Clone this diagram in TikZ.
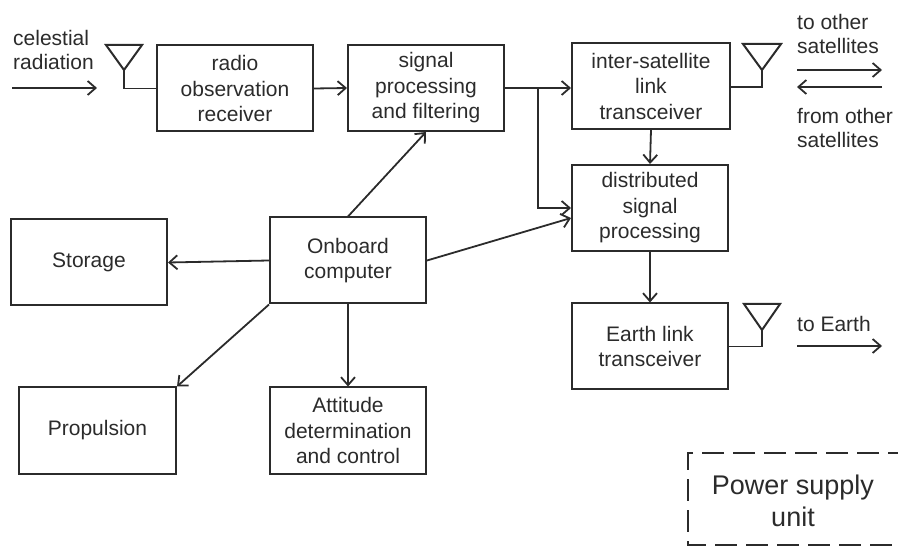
\documentclass[tikz,border=0pt]{standalone}
\usepackage{fontspec}
\setmainfont{Liberation Sans}
\usetikzlibrary{arrows.meta}
\definecolor{ink}{HTML}{2B2B2B}
\begin{document}
\begin{tikzpicture}[x=1pt,y=-1pt,
 box/.style={draw=ink,line width=2pt,minimum width=156pt,minimum height=86pt,inner sep=0pt,align=center,font=\fontsize{21}{25.5}\selectfont,text=ink},
 lbl/.style={align=left,font=\fontsize{21}{24.5}\selectfont,text=ink,inner sep=0pt,anchor=north west},
 conn/.style={draw=ink,line width=1.8pt,-{Straight Barb[length=8pt,width=14pt,line width=1.8pt]}},
 wire/.style={draw=ink,line width=1.8pt},
 ant/.style={draw=ink,line width=2pt,line join=miter},
]
\useasboundingbox (0,0) rectangle (898,548);
% boxes
\node[box] (radio) at (235,88.5) {radio\\observation\\receiver};
\node[box] (signal) at (426,88) {signal\\processing\\and filtering};
\node[box,minimum width=158pt] (isl) at (651,86) {inter-satellite\\link\\transceiver};
\node[box] (dist) at (650,208) {distributed\\signal\\processing};
\node[box] (earth) at (650,346.5) {Earth link\\transceiver};
\node[box] (storage) at (89,262.5) {Storage};
\node[box] (onboard) at (348,260.5) {Onboard\\computer};
\node[box,minimum width=157pt] (prop) at (97.5,430.5) {Propulsion};
\node[box] (att) at (348,430.5) {Attitude\\determination\\and control};
% power supply (right edge outside the picture)
\draw[ink,line width=2.5pt,dash pattern=on 22pt off 9pt] (910,453) -- (688,453) -- (688,545) -- (910,545);
\node[font=\fontsize{27}{32}\selectfont,text=ink,align=center] (power) at (793,501) {Power supply\\unit};
% antennas
\coordinate (a1) at (124,70);
\draw[ant] (106,45) -- (142,45) -- (a1) -- cycle;
\draw[wire] (a1) |- (radio.west);
\coordinate (a2) at (762,70);
\draw[ant] (743,44) -- (781,44) -- (a2) -- cycle;
\draw[wire] (a2) |- ([yshift=-1pt]isl.east);
\coordinate (a3) at (762,330);
\draw[ant] (744,304) -- (780,304) -- (a3) -- cycle;
\draw[wire] (a3) |- (earth.east);
% connectors
\draw[conn] (radio.east) -- (signal.west);
\draw[conn] (signal.east) -- (signal.east -| isl.west);
\coordinate (br) at (538,88);
\draw[conn] (br) |- (dist.west);
\draw[conn] (isl.south) -- (dist.north);
\draw[conn] (dist.south) -- (earth.north);
\draw[conn] (onboard.north) -- (signal.south);
\draw[conn] (onboard.east) -- ([yshift=-10pt]dist.west);
\draw[conn] (onboard.west) -- (storage.east);
\draw[conn] (onboard.south west) -- (prop.north east);
\draw[conn] (onboard.south) -- (att.north);
% external labels and arrows
\node[lbl] (cel) at (13,30) {celestial\\radiation};
\coordinate (c0) at (12,88); \coordinate (c1) at (97,88);
\draw[conn] (c0) -- (c1);
\node[lbl] (toos) at (797,14) {to other\\satellites};
\coordinate (t0) at (797,70); \coordinate (t1) at (882,70);
\draw[conn] (t0) -- (t1);
\coordinate (f0) at (882,87); \coordinate (f1) at (797,87);
\draw[conn] (f0) -- (f1);
\node[lbl] (fromos) at (797,108) {from other\\satellites};
\node[lbl] (toe) at (797,316) {to Earth};
\coordinate (e0) at (797,346); \coordinate (e1) at (882,346);
\draw[conn] (e0) -- (e1);
\end{tikzpicture}
\end{document}
